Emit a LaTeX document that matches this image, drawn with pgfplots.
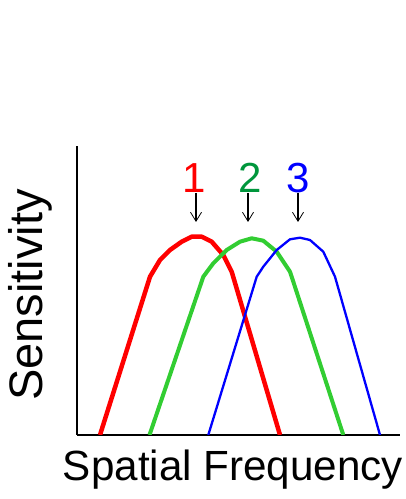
\documentclass[border=0pt]{standalone}
\usepackage{fontspec}
\setmainfont{Liberation Sans}
\usepackage{pgfplots}
\pgfplotsset{compat=1.18}
\usetikzlibrary{arrows.meta}

\definecolor{cred}{RGB}{255,0,0}
\definecolor{cgreen}{RGB}{50,205,50}
\definecolor{cgreenlab}{RGB}{0,150,60}
\definecolor{cblue}{RGB}{0,0,255}

\begin{document}
\begin{tikzpicture}[x=1pt,y=1pt]
  \path[use as bounding box] (0,0) rectangle (406,499);
  \begin{axis}[
      at={(77pt,64pt)},
      anchor=origin,
      scale only axis,
      width=323pt, height=289pt,
      xmin=77, xmax=400,
      ymin=0, ymax=289,
      axis x line*=bottom,
      axis y line*=left,
      axis line style={line width=1.3pt,-},
      xtick=\empty, ytick=\empty,
    ]
    % red channel
    \addplot[cred, line width=4.5pt, line join=round] coordinates {
      (100,0) (150,158.3) (160,175) (170,185) (181.7,193.3) (191.7,198.3)
      (201.7,198.3) (211.7,193.3) (223.3,180) (231.7,163.3) (280,0)
    };
    % green channel
    \addplot[cgreen, line width=4pt, line join=round] coordinates {
      (149.5,0) (203.3,158.3) (213.3,171.7) (226.7,185) (240,193.3) (251.7,196.7)
      (263.3,194.3) (276.7,183.3) (290,163.3) (293.3,153.3) (343.3,0)
    };
    % blue channel
    \addplot[cblue, line width=2.3pt, line join=round] coordinates {
      (208.3,0) (256.7,158.3) (263.3,168.3) (276.7,185) (290,195.7) (300,197.3)
      (310,195) (323.3,183.3) (335,158.3) (380,0)
    };

    \node[cred, anchor=base, font=\fontsize{42}{42}\selectfont] at (axis cs:194,242) {1};
    \node[cgreenlab, anchor=base, font=\fontsize{42}{42}\selectfont] at (axis cs:250,242) {2};
    \node[cblue, anchor=base, font=\fontsize{42}{42}\selectfont] at (axis cs:298,242) {3};
    \foreach \xx in {196,248,298} {
      \edef\tmp{\noexpand\draw[line width=1.8pt,
        -{Straight Barb[length=9pt,width=11pt,line width=0.8pt]}]
        (axis cs:\xx,242) -- (axis cs:\xx,213);}
      \tmp
    }
  \end{axis}
  \node[anchor=base, inner sep=0pt, font=\fontsize{42.2}{42.2}\selectfont] at (233,19) {Spatial Frequency};
  \node[anchor=base, rotate=90, inner sep=0pt, font=\fontsize{47}{47}\selectfont] at (42,204) {Sensitivity};
\end{tikzpicture}
\end{document}
